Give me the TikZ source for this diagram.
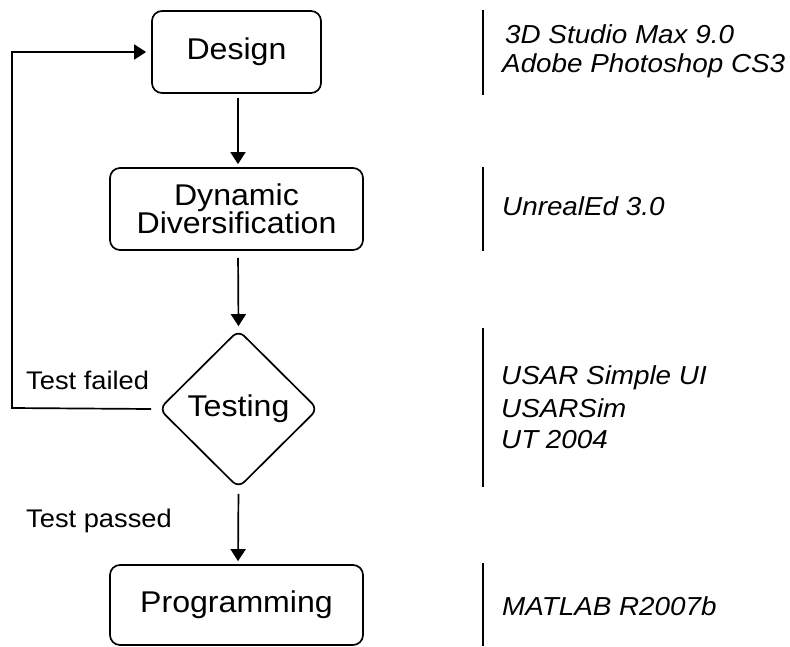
\documentclass[tikz,border=0pt]{standalone}
\usepackage{fontspec}
\setmainfont{Liberation Sans}
\newfontfamily\wfont[FakeStretch=1.07]{Liberation Sans}
\usetikzlibrary{shapes.geometric,arrows.meta}
\tikzset{
  box/.style={draw, line width=1.7pt, rounded corners=10pt, inner sep=0pt, align=center,
    font=\wfont\fontsize{30}{28}\selectfont},
  dia/.style={draw, line width=1.7pt, diamond, rounded corners=8pt, inner sep=0pt, aspect=1,
    minimum width=159pt, minimum height=158pt, font=\wfont\fontsize{30}{28}\selectfont},
  arr/.style={line width=1.7pt, -{Triangle[width=15pt,length=12pt]}},
  lbl/.style={anchor=base west, inner sep=0pt, font=\wfont\fontsize{25.5}{28}\selectfont},
  tool/.style={anchor=base west, inner sep=0pt, font=\wfont\itshape\fontsize{26}{28}\selectfont},
  sep/.style={line width=1.7pt}
}
\begin{document}
\begin{tikzpicture}[x=1pt,y=-1pt]
\useasboundingbox (0,0) rectangle (790,646);
\node[box, minimum width=169pt, minimum height=82pt] (design) at (236.5,52) {Design};
\node[box, minimum width=253pt, minimum height=82pt] (dd) at (236.5,209) {Dynamic\\Diversification};
\node[dia] (test) at (238.5,409) {Testing};
\node[box, minimum width=253pt, minimum height=80pt] (prog) at (236.5,605) {Programming};

\draw[arr, shorten <=4pt, shorten >=3pt] ([xshift=1.5pt]design.south) -- ([xshift=1.5pt]dd.north);
\draw[arr, shorten <=7pt, shorten >=3pt] ([xshift=1.5pt]dd.south) -- (test.north);
\draw[arr, shorten <=5pt, shorten >=3pt] (test.south) -- ([xshift=1.5pt]prog.north);

\coordinate (fb) at (12,408);
\draw[arr, shorten >=5pt] ([xshift=-7pt]test.west) -- (fb) |- (design.west);

\node[lbl] (lf) at (26,389) {Test failed};
\node[lbl] (lp) at (26,527) {Test passed};

\coordinate (s1a) at (483,10);  \coordinate (s1b) at (483,95);
\coordinate (s2a) at (483,167); \coordinate (s2b) at (483,251);
\coordinate (s3a) at (483,328); \coordinate (s3b) at (483,487);
\coordinate (s4a) at (483,563); \coordinate (s4b) at (483,646);
\draw[sep] (s1a) -- (s1b);
\draw[sep] (s2a) -- (s2b);
\draw[sep] (s3a) -- (s3b);
\draw[sep] (s4a) -- (s4b);

\node[tool] (t1) at (505,43) {3D Studio Max 9.0};
\node[tool] (t2) at (502,72) {Adobe Photoshop CS3};
\node[tool] (t3) at (502,215) {UnrealEd 3.0};
\node[tool] (t4) at (501,384) {USAR Simple UI};
\node[tool] (t5) at (501,417) {USARSim};
\node[tool] (t6) at (501,448) {UT 2004};
\node[tool] (t7) at (502,615) {MATLAB R2007b};
\end{tikzpicture}
\end{document}
